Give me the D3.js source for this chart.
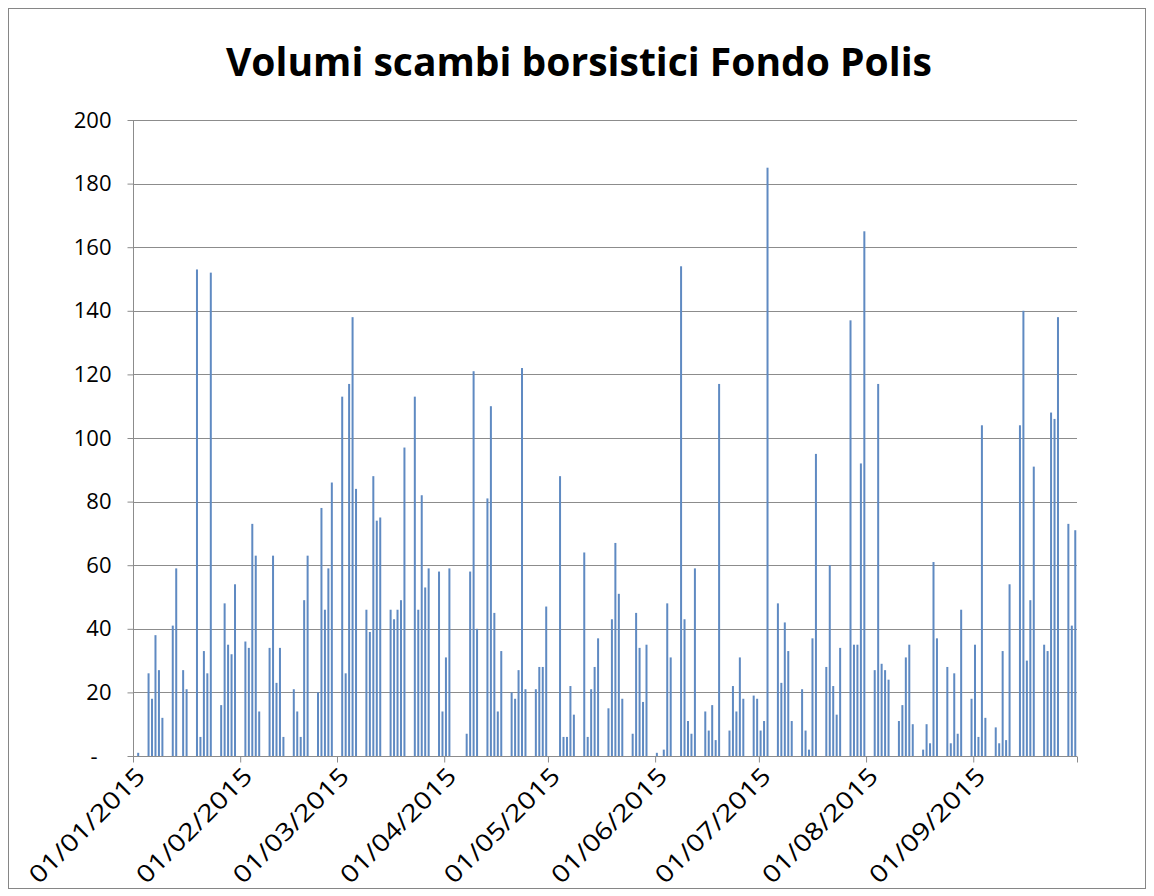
<!DOCTYPE html>
<html><head><meta charset="utf-8">
<script src="https://cdn.jsdelivr.net/npm/d3@7"></script>
<style>body{margin:0;background:#fff}svg{display:block}</style>
</head><body>
<svg id="c" width="1154" height="896"></svg>
<script>
const title = "Volumi scambi borsistici Fondo Polis";
const dates = [
"02/01/2015","05/01/2015","06/01/2015","07/01/2015","08/01/2015","09/01/2015","12/01/2015","13/01/2015","15/01/2015","16/01/2015",
"19/01/2015","20/01/2015","21/01/2015","22/01/2015","23/01/2015","26/01/2015","27/01/2015","28/01/2015","29/01/2015","30/01/2015",
"02/02/2015","03/02/2015","04/02/2015","05/02/2015","06/02/2015","09/02/2015","10/02/2015","11/02/2015","12/02/2015","13/02/2015",
"16/02/2015","17/02/2015","18/02/2015","19/02/2015","20/02/2015","23/02/2015","24/02/2015","25/02/2015","26/02/2015","27/02/2015",
"02/03/2015","03/03/2015","04/03/2015","05/03/2015","06/03/2015","09/03/2015","10/03/2015","11/03/2015","12/03/2015","13/03/2015",
"16/03/2015","17/03/2015","18/03/2015","19/03/2015","20/03/2015","23/03/2015","24/03/2015","25/03/2015","26/03/2015","27/03/2015",
"30/03/2015","31/03/2015","01/04/2015","02/04/2015","07/04/2015","08/04/2015","09/04/2015","10/04/2015","13/04/2015","14/04/2015",
"15/04/2015","16/04/2015","17/04/2015","20/04/2015","21/04/2015","22/04/2015","23/04/2015","24/04/2015","27/04/2015","28/04/2015",
"29/04/2015","30/04/2015","04/05/2015","05/05/2015","06/05/2015","07/05/2015","08/05/2015","11/05/2015","12/05/2015","13/05/2015",
"14/05/2015","15/05/2015","18/05/2015","19/05/2015","20/05/2015","21/05/2015","22/05/2015","25/05/2015","26/05/2015","27/05/2015",
"28/05/2015","29/05/2015","01/06/2015","03/06/2015","04/06/2015","05/06/2015","08/06/2015","09/06/2015","10/06/2015","11/06/2015",
"12/06/2015","15/06/2015","16/06/2015","17/06/2015","18/06/2015","19/06/2015","22/06/2015","23/06/2015","24/06/2015","25/06/2015",
"26/06/2015","29/06/2015","30/06/2015","01/07/2015","02/07/2015","03/07/2015","06/07/2015","07/07/2015","08/07/2015","09/07/2015",
"10/07/2015","13/07/2015","14/07/2015","15/07/2015","16/07/2015","17/07/2015","20/07/2015","21/07/2015","22/07/2015","23/07/2015",
"24/07/2015","27/07/2015","28/07/2015","29/07/2015","30/07/2015","31/07/2015","03/08/2015","04/08/2015","05/08/2015","06/08/2015",
"07/08/2015","10/08/2015","11/08/2015","12/08/2015","13/08/2015","14/08/2015","17/08/2015","18/08/2015","19/08/2015","20/08/2015",
"21/08/2015","24/08/2015","25/08/2015","26/08/2015","27/08/2015","28/08/2015","31/08/2015","01/09/2015","02/09/2015","03/09/2015",
"04/09/2015","07/09/2015","08/09/2015","09/09/2015","10/09/2015","11/09/2015","14/09/2015","15/09/2015","16/09/2015","17/09/2015",
"18/09/2015","21/09/2015","22/09/2015","23/09/2015","24/09/2015","25/09/2015","28/09/2015","29/09/2015","30/09/2015"
];
const volumes = [
1,26,18,38,27,12,41,59,27,21,
153,6,33,26,152,16,48,35,32,54,
36,34,73,63,14,34,63,23,34,6,
21,14,6,49,63,20,78,46,59,86,
113,26,117,138,84,46,39,88,74,75,
46,43,46,49,97,113,46,82,53,59,
58,14,31,59,7,58,121,40,81,110,
45,14,33,20,18,27,122,21,21,28,
28,47,88,6,6,22,13,64,6,21,
28,37,15,43,67,51,18,7,45,34,
17,35,1,2,48,31,154,43,11,7,
59,14,8,16,5,117,8,22,14,31,
18,19,18,8,11,185,48,23,42,33,
11,21,8,2,37,95,28,60,22,13,
34,137,35,35,92,165,27,117,29,27,
24,11,16,31,35,10,2,10,4,61,
37,28,4,26,7,46,18,35,6,104,
12,9,4,33,5,54,104,140,30,49,
91,35,33,108,106,138,73,41,71
];
const yTicks = [0,20,40,60,80,100,120,140,160,180,200];
const monthTicks = ["01/01/2015","01/02/2015","01/03/2015","01/04/2015","01/05/2015","01/06/2015","01/07/2015","01/08/2015","01/09/2015"];
const axisStart = "01/01/2015", axisEnd = "01/10/2015";

const parse = d3.timeParse("%d/%m/%Y");
const fmt = d3.timeFormat("%d/%m/%Y");
const data = dates.map((d,i)=>({date: parse(d), v: volumes[i]}));

const svg = d3.select("#c");
const L = 133, R = 1077, T = 120, B = 756;

svg.append("rect").attr("x",8.5).attr("y",8.5).attr("width",1137).attr("height",880)
  .attr("fill","#fff").attr("stroke","#868686").attr("stroke-width",1);

const x = d3.scaleTime().domain([parse(axisStart), parse(axisEnd)]).range([L, R]);
const y = d3.scaleLinear().domain([0, 200]).range([B, T]);

// gridlines
svg.append("g").selectAll("line").data(yTicks.filter(t=>t>0)).join("line")
  .attr("x1",L).attr("x2",R).attr("y1",d=>Math.round(y(d))+0.5).attr("y2",d=>Math.round(y(d))+0.5)
  .attr("stroke","#8c8c8c").attr("stroke-width",1);

// bars
const dayW = x(d3.timeDay.offset(parse(axisStart),1)) - x(parse(axisStart));
const bw = 2;
svg.append("g").selectAll("rect").data(data).join("rect")
  .attr("x", d => x(d.date) + dayW/2 - bw/2)
  .attr("width", bw)
  .attr("y", d => y(d.v))
  .attr("height", d => y(0) - y(d.v))
  .attr("fill", "#5f8ac2");

// y axis
const yAxis = d3.axisLeft(y).tickValues(yTicks).tickSize(6).tickPadding(16)
  .tickFormat(d => d === 0 ? "-" : d);
const gy = svg.append("g").attr("transform",`translate(${L+0.5},0)`).call(yAxis);
gy.selectAll(".domain").attr("stroke","#8c8c8c").attr("d",`M0,${T}V${B+0.5}`);
gy.selectAll(".tick line").attr("stroke","#8c8c8c");
gy.selectAll(".tick text").attr("font-family","'Open Sans', sans-serif").attr("font-size",22).attr("fill","#000");
gy.selectAll(".tick text").filter(d=>d===0).attr("dx",-14);

// x axis
const xTickDates = monthTicks.concat([axisEnd]).map(parse);
const xAxis = d3.axisBottom(x).tickValues(xTickDates).tickSize(6).tickPadding(4)
  .tickFormat(d => monthTicks.includes(fmt(d)) ? fmt(d) : "");
const gx = svg.append("g").attr("transform",`translate(0,${B+0.5})`).call(xAxis);
gx.select(".domain").attr("stroke","#8c8c8c").attr("d",`M${L},0H${R}`);
gx.selectAll(".tick line").attr("stroke","#8c8c8c");
gx.selectAll(".tick text").filter(function(){ return this.textContent !== ""; })
  .attr("font-family","'Open Sans', sans-serif").attr("font-size",24).attr("fill","#000")
  .attr("text-anchor","end").attr("dy",0)
  .attr("textLength",152).attr("lengthAdjust","spacingAndGlyphs")
  .attr("transform","translate(6,14) rotate(-45)");

// title
svg.append("text").attr("x",579).attr("y",76).attr("text-anchor","middle")
  .attr("font-family","'Open Sans', sans-serif").attr("font-weight","bold").attr("font-size",40)
  .attr("textLength",706).attr("lengthAdjust","spacingAndGlyphs")
  .text(title);
</script>
</body></html>
